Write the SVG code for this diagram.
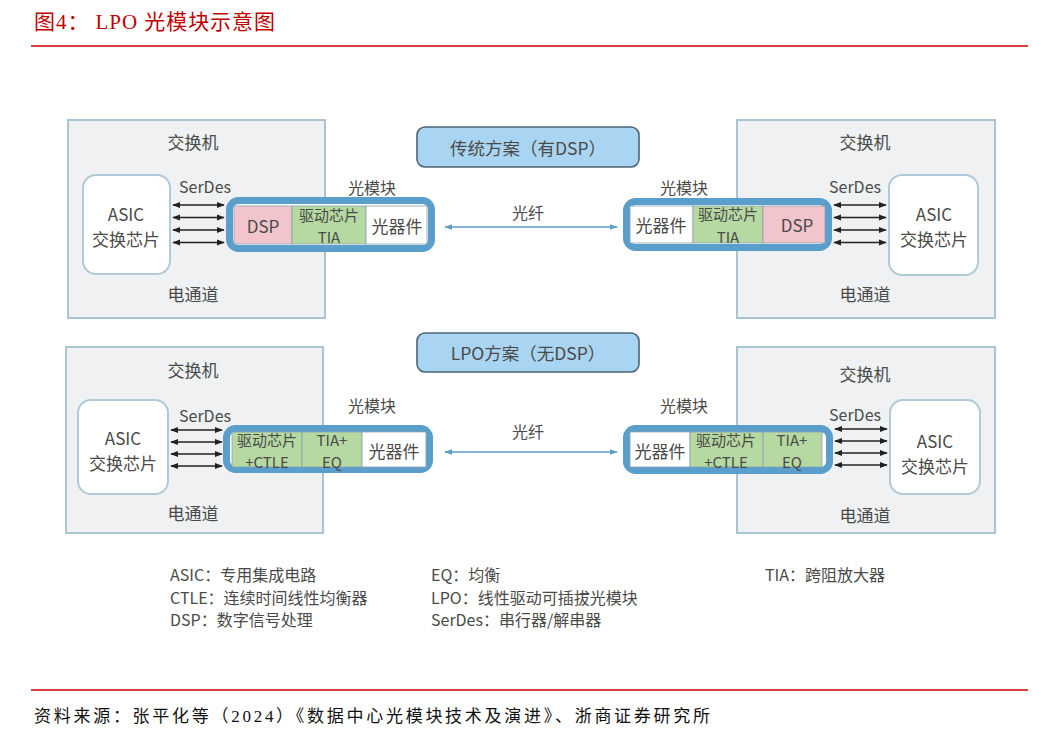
<svg xmlns="http://www.w3.org/2000/svg" width="1038" height="741" viewBox="0 0 1038 741">
<style>
.t{font-family:"Noto Sans CJK SC","Noto Sans",sans-serif;fill:#4a4a4a;text-anchor:middle;dominant-baseline:central}
.s17{font-size:17px}
.s16{font-size:16px}
.c{font-size:15px}
.tt{font-size:17.5px}
.lg{font-family:"Noto Sans CJK SC","Noto Sans",sans-serif;fill:#4a4a4a;font-size:16px;dominant-baseline:central}
.sw{fill:#eff1f3;stroke:#a8c5d2;stroke-width:2}
.asic{fill:#fff;stroke:#b0cbd7;stroke-width:2}
.mod{fill:#fff;stroke:#5a9ecb;stroke-width:7}
.pink{fill:#f2c5cd;stroke:#8aa0b0;stroke-width:0.8}
.green{fill:#b6d9a2;stroke:#8aa0b0;stroke-width:0.8}
.white{fill:#fff;stroke:#8aa0b0;stroke-width:0.8}
.tb{fill:#a9d5f2;stroke:#4b6577;stroke-width:1.6}
.bus{stroke:#222;stroke-width:1.6;fill:none;marker-start:url(#ab);marker-end:url(#ab)}
.fib{stroke:#5e9ec6;stroke-width:1.6;fill:none;marker-start:url(#af);marker-end:url(#af)}
.hd{font-family:"Liberation Serif","Noto Sans CJK SC",serif;fill:#c00000;font-size:21px}
.ft{font-family:"Liberation Serif","Noto Sans CJK SC",serif;fill:#111;font-size:17px}
</style>
<defs>
<marker id="ab" viewBox="0 0 10 10" refX="9" refY="5" markerWidth="5" markerHeight="5" orient="auto-start-reverse" markerUnits="strokeWidth">
<path d="M0,1 L10,5 L0,9 Z" fill="#222"/>
</marker>
<marker id="af" viewBox="0 0 10 10" refX="9" refY="5" markerWidth="5" markerHeight="5" orient="auto-start-reverse" markerUnits="strokeWidth">
<path d="M0,1.5 L10,5 L0,8.5 Z" fill="#5e9ec6"/>
</marker>
</defs>
<rect width="1038" height="741" fill="#fff"/>

<g id="header">
<text class="hd" x="34" y="29" textLength="241" lengthAdjust="spacing">图4：  LPO 光模块示意图</text>
<line x1="31" y1="46" x2="1028" y2="46" stroke="#c00000" stroke-width="1.5"/>
</g>

<g id="title-top">
<rect class="tb" x="417" y="127" width="222" height="40" rx="8"/>
<text class="t tt" x="528" y="147">传统方案（有DSP）</text>
</g>

<g id="switch-tl">
<rect class="sw" x="68" y="120" width="257" height="198"/>
<text class="t s17" x="193" y="141">交换机</text>
<text class="t s16" x="205" y="186">SerDes</text>
<text class="t s17" x="193" y="293">电通道</text>
</g>
<g id="asic-tl">
<rect class="asic" x="83" y="175" width="87" height="99" rx="13"/>
<text class="t s17" x="126" y="213">ASIC<tspan x="126" dy="25">交换芯片</tspan></text>
</g>

<g id="switch-tr">
<rect class="sw" x="737" y="120" width="258" height="198"/>
<text class="t s17" x="865" y="141">交换机</text>
<text class="t s16" x="855" y="186">SerDes</text>
<text class="t s17" x="865" y="293">电通道</text>
</g>
<g id="asic-tr">
<rect class="asic" x="889" y="175" width="89" height="100" rx="13"/>
<text class="t s17" x="934" y="213">ASIC<tspan x="934" dy="25">交换芯片</tspan></text>
</g>

<g id="title-bottom">
<rect class="tb" x="417" y="333" width="222" height="39" rx="8"/>
<text class="t tt" x="528" y="352">LPO方案（无DSP）</text>
</g>

<g id="switch-bl">
<rect class="sw" x="66" y="347" width="257" height="186"/>
<text class="t s17" x="193" y="369">交换机</text>
<text class="t s16" x="205" y="415">SerDes</text>
<text class="t s17" x="193" y="512">电通道</text>
</g>
<g id="asic-bl">
<rect class="asic" x="78" y="400" width="90" height="94" rx="13"/>
<text class="t s17" x="123" y="437">ASIC<tspan x="123" dy="25">交换芯片</tspan></text>
</g>

<g id="switch-br">
<rect class="sw" x="737" y="347" width="258" height="186"/>
<text class="t s17" x="865" y="373">交换机</text>
<text class="t s16" x="855" y="414">SerDes</text>
<text class="t s17" x="865" y="514">电通道</text>
</g>
<g id="asic-br">
<rect class="asic" x="890" y="400" width="90" height="94" rx="13"/>
<text class="t s17" x="935" y="440">ASIC<tspan x="935" dy="25">交换芯片</tspan></text>
</g>

<g id="connectors">
<line class="bus" x1="173" y1="205" x2="224" y2="205"/>
<line class="bus" x1="173" y1="217.5" x2="224" y2="217.5"/>
<line class="bus" x1="173" y1="230" x2="224" y2="230"/>
<line class="bus" x1="173" y1="242.5" x2="224" y2="242.5"/>

<line class="bus" x1="834" y1="205" x2="886" y2="205"/>
<line class="bus" x1="834" y1="217.5" x2="886" y2="217.5"/>
<line class="bus" x1="834" y1="230" x2="886" y2="230"/>
<line class="bus" x1="834" y1="242.5" x2="886" y2="242.5"/>

<line class="bus" x1="171" y1="430" x2="222" y2="430"/>
<line class="bus" x1="171" y1="442" x2="222" y2="442"/>
<line class="bus" x1="171" y1="454" x2="222" y2="454"/>
<line class="bus" x1="171" y1="466" x2="222" y2="466"/>

<line class="bus" x1="835" y1="429" x2="887" y2="429"/>
<line class="bus" x1="835" y1="441" x2="887" y2="441"/>
<line class="bus" x1="835" y1="453" x2="887" y2="453"/>
<line class="bus" x1="835" y1="465" x2="887" y2="465"/>

<line class="fib" x1="445" y1="227" x2="617" y2="227"/>
<line class="fib" x1="445" y1="452" x2="617" y2="452"/>
<text class="t s16" x="528" y="212">光纤</text>
<text class="t s16" x="528" y="431">光纤</text>
</g>

<g id="module-tl">
<rect class="mod" x="229.5" y="200.5" width="202" height="48" rx="9"/>
<rect class="pink" x="234" y="206" width="58" height="38"/>
<rect class="green" x="292" y="206" width="74" height="38"/>
<rect class="white" x="366" y="206" width="61" height="38"/>
<text class="t s17" x="263" y="225">DSP</text>
<text class="t c" x="329" y="214">驱动芯片<tspan x="329" dy="22">TIA</tspan></text>
<text class="t s17" x="397" y="225">光器件</text>
<text class="t s16" x="372" y="187">光模块</text>
</g>

<g id="module-tr">
<rect class="mod" x="626.5" y="201.5" width="202" height="46" rx="9"/>
<rect class="white" x="630" y="206" width="63" height="37"/>
<rect class="green" x="693" y="206" width="70" height="37"/>
<rect class="pink" x="763" y="206" width="62" height="37"/>
<text class="t s17" x="661" y="224">光器件</text>
<text class="t c" x="728" y="213.5">驱动芯片<tspan x="728" dy="22">TIA</tspan></text>
<text class="t s17" x="797" y="224">DSP</text>
<text class="t s16" x="684" y="187">光模块</text>
</g>

<g id="module-bl">
<rect class="mod" x="226.5" y="428.5" width="203" height="41" rx="9"/>
<rect class="green" x="232" y="432" width="70" height="35"/>
<rect class="green" x="302" y="432" width="60" height="35"/>
<rect class="white" x="362" y="432" width="64" height="35"/>
<text class="t c" x="267" y="439">驱动芯片<tspan x="267" dy="22">+CTLE</tspan></text>
<text class="t c" x="332" y="439">TIA+<tspan x="332" dy="22">EQ</tspan></text>
<text class="t s17" x="394" y="450">光器件</text>
<text class="t s16" x="372" y="405">光模块</text>
</g>

<g id="module-br">
<rect class="mod" x="626.5" y="428.5" width="203" height="42" rx="9"/>
<rect class="white" x="630" y="432" width="60" height="35"/>
<rect class="green" x="690" y="432" width="73" height="35"/>
<rect class="green" x="763" y="432" width="59" height="35"/>
<text class="t s17" x="660" y="450">光器件</text>
<text class="t c" x="726" y="439">驱动芯片<tspan x="726" dy="22">+CTLE</tspan></text>
<text class="t c" x="792" y="439">TIA+<tspan x="792" dy="22">EQ</tspan></text>
<text class="t s16" x="684" y="405">光模块</text>
</g>

<g id="legend">
<text class="lg" x="170" y="574">ASIC：专用集成电路</text>
<text class="lg" x="170" y="597">CTLE：连续时间线性均衡器</text>
<text class="lg" x="170" y="619">DSP：数字信号处理</text>
<text class="lg" x="431" y="574">EQ：均衡</text>
<text class="lg" x="431" y="597">LPO：线性驱动可插拔光模块</text>
<text class="lg" x="431" y="619">SerDes：串行器/解串器</text>
<text class="lg" x="765" y="574">TIA：跨阻放大器</text>
</g>

<g id="footer">
<line x1="31" y1="690" x2="1028" y2="690" stroke="#c00000" stroke-width="1.5"/>
<text class="ft" x="34" y="722" textLength="676" lengthAdjust="spacing">资料来源：张平化等（2024）《数据中心光模块技术及演进》、浙商证券研究所</text>
</g>
</svg>
